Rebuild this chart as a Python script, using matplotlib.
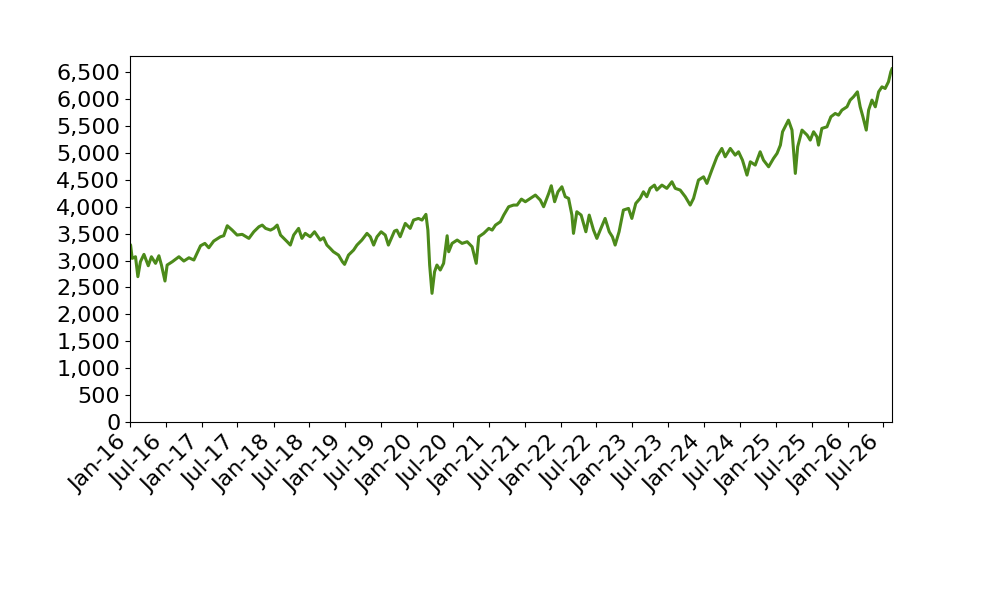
import matplotlib
matplotlib.use("Agg")
import matplotlib.pyplot as plt
import matplotlib.dates as mdates
from matplotlib.ticker import MultipleLocator, FuncFormatter
import pandas as pd

dates = [
    "2016-01-01", "2016-01-04", "2016-01-12", "2016-01-29", "2016-02-10", "2016-02-23", "2016-03-12",
    "2016-04-03", "2016-04-19", "2016-05-10", "2016-05-27", "2016-06-09", "2016-06-27",
    "2016-07-08", "2016-08-03", "2016-09-06", "2016-10-01", "2016-10-27", "2016-11-21",
    "2016-12-03", "2016-12-25", "2017-01-16", "2017-02-05", "2017-03-02", "2017-04-05",
    "2017-04-22", "2017-05-10", "2017-06-04", "2017-06-29", "2017-07-25", "2017-08-28",
    "2017-09-22", "2017-10-18", "2017-11-04", "2017-11-21", "2017-12-16", "2018-01-02",
    "2018-01-19", "2018-02-05", "2018-02-22", "2018-03-11", "2018-03-27", "2018-04-13",
    "2018-05-08", "2018-05-25", "2018-06-11", "2018-07-06", "2018-07-28", "2018-08-26",
    "2018-09-12", "2018-09-29", "2018-10-16", "2018-11-01", "2018-11-27", "2018-12-17",
    "2018-12-28", "2019-01-17", "2019-02-12", "2019-03-01", "2019-03-26", "2019-04-21",
    "2019-05-08", "2019-05-25", "2019-06-11", "2019-07-02", "2019-07-23", "2019-08-08",
    "2019-08-26", "2019-09-08", "2019-09-20", "2019-10-07", "2019-11-02", "2019-11-27",
    "2019-12-14", "2020-01-08", "2020-01-26", "2020-02-15", "2020-02-25", "2020-03-05",
    "2020-03-17", "2020-03-30", "2020-04-11", "2020-04-28", "2020-05-15", "2020-06-02",
    "2020-06-10", "2020-06-27", "2020-07-23", "2020-08-17", "2020-09-12", "2020-10-07",
    "2020-10-28", "2020-11-10", "2020-12-05", "2020-12-31", "2021-01-17", "2021-02-03",
    "2021-02-28", "2021-03-17", "2021-04-11", "2021-05-06", "2021-05-24", "2021-06-15",
    "2021-07-05", "2021-07-30", "2021-08-25", "2021-09-19", "2021-10-06", "2021-11-01",
    "2021-11-14", "2021-12-01", "2021-12-18", "2022-01-07", "2022-01-24", "2022-02-10",
    "2022-02-27", "2022-03-07", "2022-03-24", "2022-04-15", "2022-05-09", "2022-05-26",
    "2022-06-17", "2022-07-04", "2022-07-21", "2022-08-15", "2022-09-05", "2022-09-21",
    "2022-10-05", "2022-10-25", "2022-11-16", "2022-12-12", "2022-12-29", "2023-01-18",
    "2023-02-09", "2023-02-26", "2023-03-15", "2023-04-01", "2023-04-23", "2023-05-05",
    "2023-05-31", "2023-06-25", "2023-07-21", "2023-08-07", "2023-09-01", "2023-09-27",
    "2023-10-22", "2023-11-08", "2023-12-03", "2023-12-29", "2024-01-15", "2024-02-09",
    "2024-03-06", "2024-03-31", "2024-04-17", "2024-05-13", "2024-06-07", "2024-06-24",
    "2024-07-14", "2024-08-06", "2024-08-23", "2024-09-17", "2024-10-12", "2024-10-29",
    "2024-11-24", "2024-12-19", "2025-01-06", "2025-01-23", "2025-02-03", "2025-03-05",
    "2025-03-23", "2025-04-09", "2025-04-21", "2025-05-13", "2025-06-08", "2025-06-24",
    "2025-07-11", "2025-07-28", "2025-08-05", "2025-08-22", "2025-09-17", "2025-10-07",
    "2025-10-29", "2025-11-15", "2025-12-02", "2025-12-28", "2026-01-13", "2026-01-30",
    "2026-02-19", "2026-03-05", "2026-03-19", "2026-04-05", "2026-04-17", "2026-05-04",
    "2026-05-21", "2026-06-07", "2026-06-24", "2026-07-10", "2026-07-27", "2026-08-08",
    "2026-08-14",
]

values = [
    3300, 3287, 3040, 3070, 2700, 2977, 3114,
    2903, 3070, 2947, 3088, 2916, 2619,
    2916, 2977, 3070, 2990, 3051, 3009,
    3101, 3274, 3318, 3237, 3361, 3441,
    3460, 3646, 3565, 3473, 3486, 3411,
    3534, 3627, 3658, 3597, 3565, 3597,
    3658, 3473, 3411, 3349, 3287, 3473,
    3597, 3411, 3504, 3441, 3534, 3380,
    3423, 3287, 3225, 3163, 3101, 2977,
    2928, 3101, 3194, 3287, 3380, 3504,
    3441, 3287, 3441, 3534, 3473, 3287,
    3441, 3547, 3565, 3441, 3689, 3597,
    3751, 3782, 3751, 3857, 3565, 2916,
    2390, 2791, 2916, 2823, 2947, 3460,
    3163, 3318, 3380, 3318, 3349, 3256,
    2947, 3441, 3504, 3597, 3565, 3658,
    3720, 3844, 3999, 4030, 4030, 4141,
    4092, 4154, 4216, 4123, 3999, 4247,
    4389, 4092, 4277, 4370, 4185, 4154,
    3844, 3504, 3906, 3844, 3534, 3844,
    3565, 3411, 3565, 3782, 3534, 3441,
    3287, 3534, 3937, 3968, 3782, 4061,
    4154, 4277, 4185, 4340, 4401, 4309,
    4401, 4340, 4463, 4340, 4309, 4185,
    4030, 4154, 4494, 4555, 4432, 4680,
    4927, 5082, 4927, 5082, 4958, 5020,
    4865, 4587, 4834, 4773, 5020, 4865,
    4741, 4897, 4990, 5144, 5392, 5608,
    5423, 4618, 5113, 5423, 5330, 5237,
    5392, 5299, 5144, 5454, 5484, 5670,
    5732, 5701, 5794, 5856, 5980, 6041,
    6134, 5856, 5670, 5423, 5794, 5980,
    5856, 6134, 6227, 6196, 6320, 6506,
    6560,
]

x = pd.to_datetime(dates)

fig = plt.figure(figsize=(10, 6), dpi=100)
ax = fig.add_axes([0.13, 0.2967, 0.762, 0.61])

ax.plot(x, values, color="#4c8a1a", linewidth=2.2)

ax.set_xlim(x[0], x[-1])
ax.set_ylim(0, 6800)

ax.yaxis.set_major_locator(MultipleLocator(500))
ax.yaxis.set_major_formatter(FuncFormatter(lambda v, p: f"{v:,.0f}"))

ax.xaxis.set_major_locator(mdates.MonthLocator(bymonth=[1, 7]))
ax.xaxis.set_major_formatter(mdates.DateFormatter("%b-%y"))

ax.tick_params(axis="both", labelsize=16)
for lbl in ax.get_xticklabels():
    lbl.set_rotation(45)
    lbl.set_ha("right")
    lbl.set_rotation_mode("default")

fig.savefig("out.png", dpi=100)
